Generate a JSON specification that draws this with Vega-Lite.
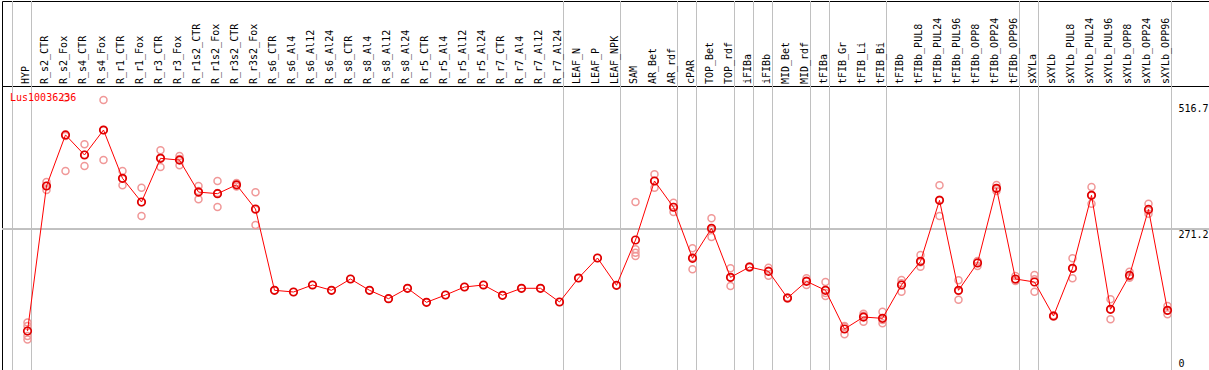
{
  "$schema": "https://vega.github.io/schema/vega-lite/v6.json",
  "padding": {"left": 1, "top": 0, "right": 1, "bottom": 1},
  "background": "white",
  "spacing": 0,
  "bounds": "flush",
  "config": {"view": {"stroke": "#000000", "strokeWidth": 1}, "font": "DejaVu Sans Mono"},
  "datasets": {
    "cols": [
      {"i":1,"s":"HYP"},{"i":2,"s":"R_s2_CTR"},{"i":3,"s":"R_s2_Fox"},{"i":4,"s":"R_s4_CTR"},{"i":5,"s":"R_s4_Fox"},
      {"i":6,"s":"R_r1_CTR"},{"i":7,"s":"R_r1_Fox"},{"i":8,"s":"R_r3_CTR"},{"i":9,"s":"R_r3_Fox"},{"i":10,"s":"R_r1s2_CTR"},
      {"i":11,"s":"R_r1s2_Fox"},{"i":12,"s":"R_r3s2_CTR"},{"i":13,"s":"R_r3s2_Fox"},{"i":14,"s":"R_s6_CTR"},{"i":15,"s":"R_s6_Al4"},
      {"i":16,"s":"R_s6_Al12"},{"i":17,"s":"R_s6_Al24"},{"i":18,"s":"R_s8_CTR"},{"i":19,"s":"R_s8_Al4"},{"i":20,"s":"R_s8_Al12"},
      {"i":21,"s":"R_s8_Al24"},{"i":22,"s":"R_r5_CTR"},{"i":23,"s":"R_r5_Al4"},{"i":24,"s":"R_r5_Al12"},{"i":25,"s":"R_r5_Al24"},
      {"i":26,"s":"R_r7_CTR"},{"i":27,"s":"R_r7_Al4"},{"i":28,"s":"R_r7_Al12"},{"i":29,"s":"R_r7_Al24"},{"i":30,"s":"LEAF_N"},
      {"i":31,"s":"LEAF_P"},{"i":32,"s":"LEAF_NPK"},{"i":33,"s":"SAM"},{"i":34,"s":"AR_Bet"},{"i":35,"s":"AR_rdf"},
      {"i":36,"s":"cPAR"},{"i":37,"s":"TOP_Bet"},{"i":38,"s":"TOP_rdf"},{"i":39,"s":"iFIBa"},{"i":40,"s":"iFIBb"},
      {"i":41,"s":"MID_Bet"},{"i":42,"s":"MID_rdf"},{"i":43,"s":"tFIBa"},{"i":44,"s":"tFIB_Gr"},{"i":45,"s":"tFIB_Li"},
      {"i":46,"s":"tFIB_Bi"},{"i":47,"s":"tFIBb"},{"i":48,"s":"tFIBb_PUL8"},{"i":49,"s":"tFIBb_PUL24"},{"i":50,"s":"tFIBb_PUL96"},
      {"i":51,"s":"tFIBb_OPP8"},{"i":52,"s":"tFIBb_OPP24"},{"i":53,"s":"tFIBb_OPP96"},{"i":54,"s":"sXYLa"},{"i":55,"s":"sXYLb"},
      {"i":56,"s":"sXYLb_PUL8"},{"i":57,"s":"sXYLb_PUL24"},{"i":58,"s":"sXYLb_PUL96"},{"i":59,"s":"sXYLb_OPP8"},{"i":60,"s":"sXYLb_OPP24"},
      {"i":61,"s":"sXYLb_OPP96"}
    ],
    "bounds": [{"b":0},{"b":1},{"b":29},{"b":32},{"b":35},{"b":36},{"b":38},{"b":39},{"b":40},{"b":42},{"b":43},{"b":46},{"b":53},{"b":54},{"b":61}],
    "reps": [
      {"i":1,"v":82.1},{"i":1,"v":75.0},{"i":1,"v":54.7},{"i":1,"v":47.6},
      {"i":2,"v":366.8},{"i":2,"v":358.7},{"i":2,"v":350.5},
      {"i":3,"v":537.6},{"i":3,"v":460.0},{"i":3,"v":389.1},
      {"i":4,"v":443.2},{"i":4,"v":422.1},{"i":4,"v":399.2},
      {"i":5,"v":532.9},{"i":5,"v":472.1},{"i":5,"v":411.3},
      {"i":6,"v":389.1},{"i":6,"v":373.4},{"i":6,"v":360.1},
      {"i":7,"v":355.2},{"i":7,"v":325.6},{"i":7,"v":297.9},
      {"i":8,"v":431.0},{"i":8,"v":416.0},{"i":8,"v":397.2},
      {"i":9,"v":419.4},{"i":9,"v":413.4},{"i":9,"v":400.6},
      {"i":10,"v":358.7},{"i":10,"v":348.5},{"i":10,"v":331.7},
      {"i":11,"v":368.8},{"i":11,"v":344.5},{"i":11,"v":316.1},
      {"i":12,"v":364.7},{"i":12,"v":360.7},{"i":12,"v":357.7},
      {"i":13,"v":345.9},{"i":13,"v":310.6},{"i":13,"v":279.6},
      {"i":14,"v":147.3},{"i":15,"v":143.9},{"i":16,"v":158.1},{"i":17,"v":147.3},{"i":18,"v":170.2},
      {"i":19,"v":147.3},{"i":20,"v":130.3},{"i":21,"v":151.4},{"i":22,"v":123.0},{"i":23,"v":137.8},
      {"i":24,"v":154.0},{"i":25,"v":158.1},{"i":26,"v":137.2},{"i":27,"v":151.4},{"i":28,"v":151.4},
      {"i":29,"v":123.6},{"i":30,"v":172.2},{"i":31,"v":212.8},{"i":32,"v":157.4},
      {"i":33,"v":326.2},{"i":33,"v":230.4},{"i":33,"v":223.5},{"i":33,"v":216.8},
      {"i":34,"v":382.4},{"i":34,"v":368.8},{"i":34,"v":355.2},
      {"i":35,"v":324.8},{"i":35,"v":316.1},{"i":35,"v":306.0},
      {"i":36,"v":232.4},{"i":36,"v":214.2},{"i":36,"v":189.9},
      {"i":37,"v":293.2},{"i":37,"v":270.1},{"i":37,"v":255.3},
      {"i":38,"v":191.9},{"i":38,"v":172.8},{"i":38,"v":156.0},
      {"i":39,"v":195.5},{"i":39,"v":194.5},{"i":39,"v":193.5},
      {"i":40,"v":193.1},{"i":40,"v":187.0},{"i":40,"v":176.9},
      {"i":41,"v":132.7},{"i":41,"v":131.7},{"i":41,"v":130.7},
      {"i":42,"v":171.6},{"i":42,"v":166.8},{"i":42,"v":158.1},
      {"i":43,"v":164.1},{"i":43,"v":141.8},{"i":43,"v":135.8},
      {"i":44,"v":75.0},{"i":44,"v":73.6},{"i":44,"v":58.2},
      {"i":45,"v":99.9},{"i":45,"v":95.8},{"i":45,"v":83.7},
      {"i":46,"v":103.9},{"i":46,"v":87.1},{"i":46,"v":80.4},
      {"i":47,"v":168.2},{"i":47,"v":161.5},{"i":47,"v":144.5},
      {"i":48,"v":218.8},{"i":48,"v":204.0},{"i":48,"v":195.1},
      {"i":49,"v":360.1},{"i":49,"v":330.9},{"i":49,"v":297.9},
      {"i":50,"v":167.6},{"i":50,"v":145.9},{"i":50,"v":128.3},
      {"i":51,"v":206.7},{"i":51,"v":204.7},{"i":51,"v":196.6},
      {"i":52,"v":360.7},{"i":52,"v":352.6},{"i":52,"v":348.5},
      {"i":53,"v":176.3},{"i":53,"v":168.2},{"i":53,"v":166.2},
      {"i":54,"v":178.3},{"i":54,"v":169.6},{"i":54,"v":144.5},
      {"i":55,"v":96.2},{"i":55,"v":95.2},{"i":55,"v":94.2},
      {"i":56,"v":212.2},{"i":56,"v":191.9},{"i":56,"v":171.6},
      {"i":57,"v":356.6},{"i":57,"v":339.8},{"i":57,"v":322.8},
      {"i":58,"v":129.1},{"i":58,"v":108.8},{"i":58,"v":88.5},
      {"i":59,"v":185.0},{"i":59,"v":174.9},{"i":59,"v":172.8},
      {"i":60,"v":322.8},{"i":60,"v":308.6},{"i":60,"v":302.5},
      {"i":61,"v":115.5},{"i":61,"v":106.0},{"i":61,"v":98.7}
    ],
    "gene": [{"name": "Lus10036236"}]
  },
  "vconcat": [
    {
      "width": 1207,
      "height": 85,
      "layer": [
        {
          "data": {"name": "bounds"},
          "mark": {"type": "rule", "color": "#c0c0c0", "strokeWidth": 1, "xOffset": 4},
          "encoding": {
            "x": {"field": "b", "type": "quantitative", "scale": {"domain": [-0.3421, 63.184], "nice": false, "zero": false}, "axis": null}
          }
        },
        {
          "data": {"name": "cols"},
          "mark": {"type": "text", "angle": 270, "align": "left", "baseline": "middle", "font": "DejaVu Sans Mono", "fontSize": 10, "color": "#000000", "xOffset": -1.5, "yOffset": -2},
          "encoding": {
            "x": {"field": "i", "type": "quantitative", "scale": {"domain": [-0.3421, 63.184], "nice": false, "zero": false}, "axis": null},
            "y": {"datum": 0, "type": "quantitative", "scale": {"domain": [0, 1]}, "axis": null},
            "text": {"field": "s", "type": "nominal"}
          }
        }
      ]
    },
    {
      "width": 1207,
      "height": 284,
      "layer": [
        {
          "data": {"name": "bounds"},
          "mark": {"type": "rule", "color": "#c0c0c0", "strokeWidth": 1, "xOffset": 4},
          "encoding": {
            "x": {"field": "b", "type": "quantitative", "scale": {"domain": [-0.3421, 63.184], "nice": false, "zero": false}, "axis": null}
          }
        },
        {
          "data": {"name": "bounds"},
          "mark": {"type": "rule", "color": "#c0c0c0", "strokeWidth": 1},
          "encoding": {
            "y": {"datum": 271.2, "type": "quantitative", "scale": {"domain": [-14.18, 561.3], "nice": false, "zero": false}, "axis": {"orient": "right", "values": [0, 271.2, 516.7], "title": null, "domain": false, "ticks": false, "grid": false, "labelPadding": -31, "labelFont": "DejaVu Sans Mono", "labelFontSize": 10, "labelColor": "#000000", "labelAlign": "left", "labelBaseline": {"condition": {"test": "datum.value === 271.2", "value": "top"}, "value": "middle"}, "labelOverlap": false, "labelFlush": false, "labelBound": false, "format": ".1~f"}}
          }
        },
        {
          "data": {"name": "reps"},
          "mark": {"type": "point", "shape": "circle", "filled": false, "stroke": "#f09898", "strokeWidth": 1.5, "size": 49, "opacity": 1},
          "encoding": {
            "x": {"field": "i", "type": "quantitative", "scale": {"domain": [-0.3421, 63.184], "nice": false, "zero": false}, "axis": null},
            "y": {"field": "v", "type": "quantitative", "scale": {"domain": [-14.18, 561.3], "nice": false, "zero": false}, "axis": {"orient": "right", "values": [0, 271.2, 516.7], "title": null, "domain": false, "ticks": false, "grid": false, "labelPadding": -31, "labelFont": "DejaVu Sans Mono", "labelFontSize": 10, "labelColor": "#000000", "labelAlign": "left", "labelBaseline": {"condition": {"test": "datum.value === 271.2", "value": "top"}, "value": "middle"}, "labelOverlap": false, "labelFlush": false, "labelBound": false, "format": ".1~f"}}
          }
        },
        {
          "data": {"name": "reps"},
          "mark": {"type": "line", "color": "#ff0000", "strokeWidth": 1},
          "encoding": {
            "x": {"field": "i", "type": "quantitative", "scale": {"domain": [-0.3421, 63.184], "nice": false, "zero": false}, "axis": null},
            "y": {"aggregate": "mean", "field": "v", "type": "quantitative", "scale": {"domain": [-14.18, 561.3], "nice": false, "zero": false}, "axis": {"orient": "right", "values": [0, 271.2, 516.7], "title": null, "domain": false, "ticks": false, "grid": false, "labelPadding": -31, "labelFont": "DejaVu Sans Mono", "labelFontSize": 10, "labelColor": "#000000", "labelAlign": "left", "labelBaseline": {"condition": {"test": "datum.value === 271.2", "value": "top"}, "value": "middle"}, "labelOverlap": false, "labelFlush": false, "labelBound": false, "format": ".1~f"}}
          }
        },
        {
          "data": {"name": "reps"},
          "mark": {"type": "point", "shape": "circle", "filled": false, "stroke": "#e00000", "strokeWidth": 1.7, "size": 56, "opacity": 1},
          "encoding": {
            "x": {"field": "i", "type": "quantitative", "scale": {"domain": [-0.3421, 63.184], "nice": false, "zero": false}, "axis": null},
            "y": {"aggregate": "mean", "field": "v", "type": "quantitative", "scale": {"domain": [-14.18, 561.3], "nice": false, "zero": false}, "axis": {"orient": "right", "values": [0, 271.2, 516.7], "title": null, "domain": false, "ticks": false, "grid": false, "labelPadding": -31, "labelFont": "DejaVu Sans Mono", "labelFontSize": 10, "labelColor": "#000000", "labelAlign": "left", "labelBaseline": {"condition": {"test": "datum.value === 271.2", "value": "top"}, "value": "middle"}, "labelOverlap": false, "labelFlush": false, "labelBound": false, "format": ".1~f"}}
          }
        },
        {
          "data": {"name": "gene"},
          "mark": {"type": "text", "align": "left", "baseline": "middle", "font": "DejaVu Sans Mono", "fontSize": 10, "color": "#ff0000"},
          "encoding": {
            "x": {"datum": 0.08, "type": "quantitative", "scale": {"domain": [-0.3421, 63.184], "nice": false, "zero": false}, "axis": null},
            "y": {"datum": 537.6, "type": "quantitative", "scale": {"domain": [-14.18, 561.3], "nice": false, "zero": false}, "axis": {"orient": "right", "values": [0, 271.2, 516.7], "title": null, "domain": false, "ticks": false, "grid": false, "labelPadding": -31, "labelFont": "DejaVu Sans Mono", "labelFontSize": 10, "labelColor": "#000000", "labelAlign": "left", "labelBaseline": {"condition": {"test": "datum.value === 271.2", "value": "top"}, "value": "middle"}, "labelOverlap": false, "labelFlush": false, "labelBound": false, "format": ".1~f"}},
            "text": {"field": "name", "type": "nominal"}
          }
        }
      ]
    }
  ]
}
